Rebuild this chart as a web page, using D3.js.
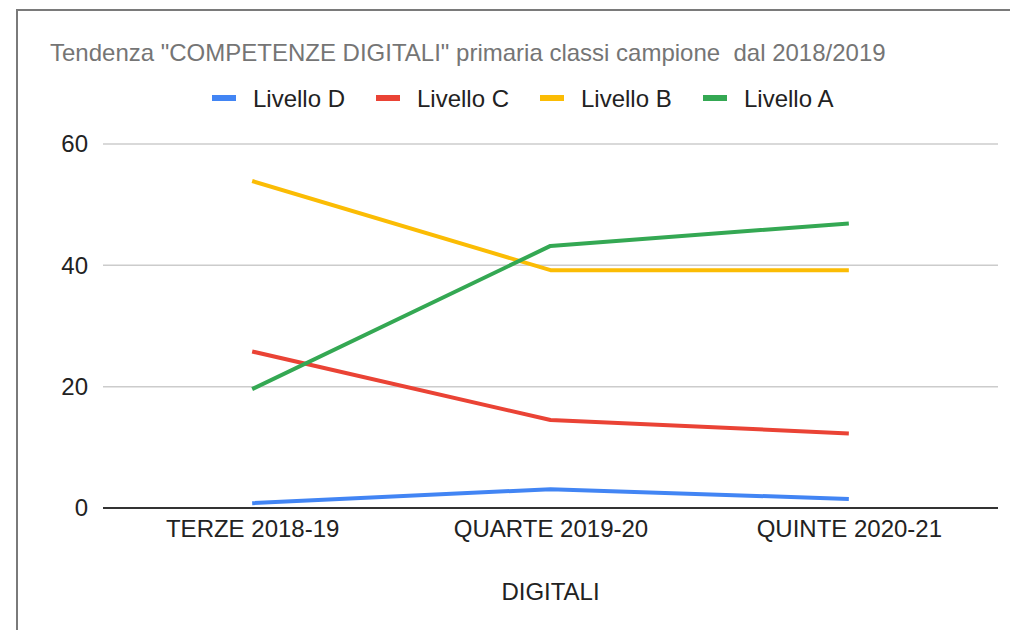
<!DOCTYPE html>
<html>
<head>
<meta charset="utf-8">
<script src="https://cdn.jsdelivr.net/npm/d3@7"></script>
<style>
  body { margin: 0; background: #fff; }
  svg { display: block; font-family: Arial, "Liberation Sans", sans-serif; }
</style>
</head>
<body>
<div id="chart"></div>
<script>
const categories = ["TERZE 2018-19", "QUARTE 2019-20", "QUINTE 2020-21"];
const seriesNames = ["Livello D", "Livello C", "Livello B", "Livello A"];
const seriesColors = ["#4285f4", "#ea4335", "#fbbc04", "#34a853"];
const livelloD = [0.8, 3.1, 1.5];
const livelloC = [25.8, 14.5, 12.3];
const livelloB = [53.9, 39.2, 39.2];
const livelloA = [19.6, 43.2, 46.9];
const yTicks = [0, 20, 40, 60];

const series = [livelloD, livelloC, livelloB, livelloA].map((vals, i) => ({
  name: seriesNames[i],
  color: seriesColors[i],
  values: vals
}));

const width = 1010, height = 630;
const plot = { left: 103, right: 998, top: 144, bottom: 508 };
const fontSize = 24;

const svg = d3.select('#chart')
  .append('svg')
  .attr('width', width)
  .attr('height', height);

// frame (only left and top edges visible in the crop)
svg.append('path')
  .attr('d', `M17,${height} L17,10 L${width},10`)
  .attr('fill', 'none')
  .attr('stroke', '#7a7a7a')
  .attr('stroke-width', 2);

svg.append('text')
  .attr('x', 50)
  .attr('y', 61)
  .attr('font-size', fontSize)
  .attr('fill', '#757575')
  .attr('xml:space', 'preserve')
  .text('Tendenza "COMPETENZE DIGITALI" primaria classi campione  dal 2018/2019');

// legend
const legendX = [212, 376, 540, 703];
const legend = svg.selectAll('g.legend')
  .data(series)
  .enter()
  .append('g')
  .attr('class', 'legend')
  .attr('transform', (d, i) => `translate(${legendX[i]},98)`);
legend.append('rect')
  .attr('x', 0).attr('y', -3)
  .attr('width', 24).attr('height', 6)
  .attr('fill', d => d.color);
legend.append('text')
  .attr('x', 41).attr('y', 9)
  .attr('font-size', fontSize)
  .attr('fill', '#222')
  .text(d => d.name);

const x = d3.scalePoint()
  .domain(categories)
  .range([plot.left, plot.right])
  .padding(0.5);

const y = d3.scaleLinear()
  .domain([0, 60])
  .range([plot.bottom, plot.top]);

// gridlines
svg.append('g')
  .selectAll('line')
  .data(yTicks.filter(t => t !== 0))
  .enter()
  .append('line')
  .attr('x1', plot.left).attr('x2', plot.right)
  .attr('y1', d => y(d)).attr('y2', d => y(d))
  .attr('stroke', '#cccccc')
  .attr('stroke-width', 1.5);

const yAxis = svg.append('g')
  .attr('transform', `translate(${plot.left - 15},0)`)
  .call(d3.axisLeft(y).tickValues(yTicks).tickSize(0).tickPadding(0));
yAxis.select('.domain').remove();
yAxis.selectAll('text')
  .attr('font-size', fontSize)
  .attr('font-family', 'Arial, "Liberation Sans", sans-serif')
  .attr('fill', '#222');

const xAxis = svg.append('g')
  .attr('transform', `translate(0,${plot.bottom})`)
  .call(d3.axisBottom(x).tickSize(0).tickPadding(12));
xAxis.select('.domain').remove();
xAxis.selectAll('text')
  .attr('font-size', fontSize)
  .attr('font-family', 'Arial, "Liberation Sans", sans-serif')
  .attr('fill', '#222');

svg.append('text')
  .attr('x', (plot.left + plot.right) / 2)
  .attr('y', 600)
  .attr('text-anchor', 'middle')
  .attr('font-size', fontSize)
  .attr('fill', '#222')
  .text('DIGITALI');

const line = d3.line()
  .x((d, i) => x(categories[i]))
  .y(d => y(d));

svg.append('g')
  .selectAll('path')
  .data(series)
  .enter()
  .append('path')
  .attr('d', d => line(d.values))
  .attr('fill', 'none')
  .attr('stroke', d => d.color)
  .attr('stroke-width', 4)
  .attr('stroke-linejoin', 'round');

// baseline
svg.append('line')
  .attr('x1', plot.left).attr('x2', plot.right)
  .attr('y1', y(0)).attr('y2', y(0))
  .attr('stroke', '#333')
  .attr('stroke-width', 2);
</script>
</body>
</html>
